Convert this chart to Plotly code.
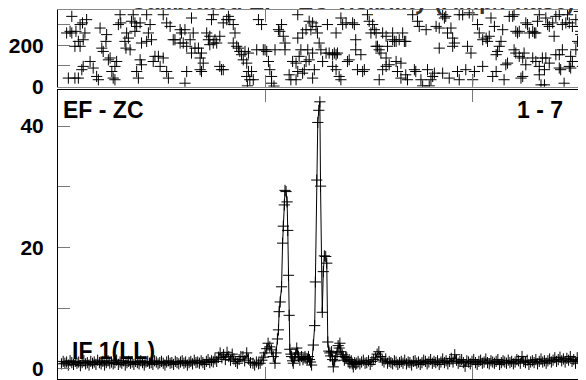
import plotly.graph_objects as go

# ---------------- data (time in minutes from left edge of plot) ----------------
amp_time_early = [1.0, 1.5, 2.0, 2.5, 3.0, 3.5, 4.0, 4.5, 5.0, 5.5,
                  6.0, 6.5, 7.0, 7.5, 8.0, 8.5, 9.0, 9.5, 10.0, 10.5,
                  11.0, 11.5, 12.0, 12.5, 13.0, 13.5, 14.0, 14.5, 15.0, 15.5,
                  16.0, 16.5, 17.0, 17.5, 18.0, 18.5, 19.0, 19.5, 20.0, 20.5,
                  21.0, 21.5, 22.0, 22.5, 23.0, 23.5, 24.0, 24.5, 25.0, 25.5,
                  26.0, 26.5, 27.0, 27.5, 28.0, 28.5, 29.0, 29.5, 30.0, 30.5,
                  31.0, 31.5, 32.0, 32.5, 33.0, 33.5, 34.0, 34.5, 35.0, 35.5,
                  36.0, 36.5, 37.0, 37.5, 38.0, 38.5, 39.0, 39.5, 40.0, 40.5,
                  41.0, 41.5, 42.0, 42.5, 43.0, 43.5, 44.0, 44.5, 45.0, 45.5,
                  46.0, 46.5, 47.0, 47.5, 48.0, 48.5, 49.0, 49.5, 50.0, 50.5,
                  51.0, 51.5, 52.0, 52.5, 53.0]
amp_early = [0.8, 1.2, 0.9, 1.1, 0.6, 1.3, 1.0, 0.7, 1.2, 0.9,
             1.1, 0.5, 1.0, 1.3, 0.8, 1.0, 0.6, 1.2, 0.9, 1.1,
             0.7, 1.4, 1.0, 0.8, 1.2, 0.6, 1.0, 1.3, 0.9, 1.1,
             0.8, 1.0, 1.4, 0.7, 1.1, 0.9, 1.3, 0.6, 1.0, 1.2,
             0.9, 1.1, 0.7, 1.2, 1.0, 0.8, 1.3, 1.0, 0.6, 1.1,
             1.2, 0.9, 1.0, 0.7, 1.3, 1.1, 0.8, 1.0, 1.2, 0.9,
             0.6, 1.1, 1.3, 0.9, 1.0, 0.7, 1.2, 1.0, 0.8, 1.1,
             1.3, 0.9, 1.1, 0.6, 1.0, 1.2, 0.8, 1.4, 1.0, 1.1,
             0.9, 1.3, 1.0, 0.7, 1.2, 1.5, 1.0, 1.3, 1.1, 1.6,
             1.2, 1.9, 2.6, 1.8, 2.3, 1.5, 2.7, 2.0, 1.4, 2.4,
             1.6, 1.2, 0.9, 1.5, 2.0]

amp_time_flare = [53.6, 54.1, 54.7, 55.2, 55.8, 56.5, 57.0, 57.5, 58.1, 58.6,
                  59.1, 59.6, 60.0, 60.5, 60.9, 61.4, 61.9, 62.4, 62.9, 63.2,
                  63.6, 63.9, 64.1, 64.4, 64.8, 65.1, 65.3, 65.6, 65.8, 66.1,
                  66.4, 66.6, 66.8, 67.0, 67.2, 67.5, 67.7, 68.0, 68.2, 68.6,
                  68.9, 69.2, 69.5, 69.7, 70.1, 70.6, 71.0, 71.3, 71.6, 71.9,
                  72.3, 72.6, 72.9, 73.2, 73.5, 74.0, 74.4, 74.6, 75.0, 75.3,
                  75.6, 75.9, 76.1, 76.6, 76.9, 77.2, 77.6, 77.9, 78.2, 78.5,
                  78.8, 79.0, 79.3, 79.6, 79.8, 80.2, 80.5, 80.9, 81.2, 81.5,
                  81.7, 82.0, 82.4, 82.7, 83.0, 83.4, 83.7, 84.1, 84.4, 84.6,
                  85.0, 85.3, 85.6, 86.0, 86.3, 86.6]
amp_flare = [2.0, 1.3, 2.6, 1.6, 1.0, 0.9, 0.6, 1.1, 0.8, 0.9,
             1.4, 1.9, 2.6, 3.3, 4.2, 3.6, 3.1, 2.0, 0.9, 2.6,
             4.9, 6.4, 9.4, 11.0, 13.5, 20.7, 23.5, 27.0, 29.4, 29.2,
             27.5, 22.8, 15.4, 8.8, 3.2, 2.4, 2.0, 1.3, 0.9, 1.8,
             2.4, 3.4, 2.6, 2.0, 1.4, 2.0, 1.5, 1.8, 2.0, 1.7,
             1.6, 2.0, 1.5, 1.1, 0.6, 3.9, 7.1, 14.3, 31.1, 40.6,
             42.6, 44.0, 30.1, 9.3, 16.0, 18.6, 18.5, 17.4, 4.4, 2.9,
             2.6, 2.1, 2.8, 1.5, 0.3, 1.3, 2.0, 2.6, 3.8, 3.4,
             4.2, 2.8, 2.3, 2.0, 1.4, 1.9, 1.8, 1.2, 1.5, 0.9,
             1.3, 0.8, 0.3, 1.0, 0.7, 0.9]

amp_time_late = [87.0, 87.5, 88.0, 88.5, 89.0, 89.5, 90.0, 90.5, 91.0, 91.5,
                 92.0, 92.5, 93.0, 93.5, 94.0, 94.5, 95.0, 95.5, 96.0, 96.5,
                 97.0, 97.5, 98.0, 98.5, 99.0, 99.5, 100.0, 100.5, 101.0, 101.5,
                 102.0, 102.5, 103.0, 103.5, 104.0, 104.5, 105.0, 105.5, 106.0, 106.5,
                 107.0, 107.5, 108.0, 108.5, 109.0, 109.5, 110.0, 110.5, 111.0, 111.5,
                 112.0, 112.5, 113.0, 113.5, 114.0, 114.5, 115.0, 115.5, 116.0, 116.5,
                 117.0, 117.5, 118.0, 118.5, 119.0, 119.5, 120.0, 120.5, 121.0, 121.5,
                 122.0, 122.5, 123.0, 123.5, 124.0, 124.5, 125.0, 125.5, 126.0, 126.5,
                 127.0, 127.5, 128.0, 128.5, 129.0, 129.5, 130.0, 130.5, 131.0, 131.5,
                 132.0, 132.5, 133.0, 133.5, 134.0, 134.5, 135.0, 135.5, 136.0, 136.5,
                 137.0, 137.5, 138.0, 138.5, 139.0, 139.5, 140.0, 140.5, 141.0, 141.5,
                 142.0, 142.5, 143.0, 143.5, 144.0, 144.5, 145.0, 145.5, 146.0, 146.5,
                 147.0, 147.5, 148.0, 148.5, 149.0, 149.5, 150.0, 150.5, 151.0, 151.5,
                 152.0, 152.5]
amp_late = [1.2, 0.8, 1.1, 1.4, 0.9, 1.0, 1.3, 0.7, 1.2, 1.5,
            1.8, 2.4, 2.8, 2.0, 1.4, 1.1, 1.6, 0.9, 1.2, 1.0,
            0.8, 1.3, 1.1, 0.7, 1.0, 1.2, 0.9, 1.4, 0.8, 1.1,
            1.0, 0.6, 1.2, 1.3, 0.9, 1.1, 0.7, 1.0, 1.4, 1.2,
            0.8, 1.1, 1.5, 0.9, 1.2, 1.0, 1.3, 0.7, 1.1, 1.6,
            1.0, 1.3, 0.8, 1.2, 1.7, 1.1, 2.3, 1.4, 0.9, 1.2,
            1.5, 1.0, 0.4, 1.3, 1.1, 0.8, 1.2, 1.5, 1.0, 0.7,
            1.2, 1.4, 0.9, 1.1, 1.6, 1.0, 0.8, 1.3, 1.1, 0.9,
            1.2, 1.5, 0.7, 1.0, 1.3, 1.1, 0.9, 1.4, 1.0, 1.2,
            0.8, 1.1, 1.5, 1.3, 0.9, 2.0, 1.2, 1.0, 1.4, 0.7,
            1.1, 1.3, 1.0, 1.5, 0.8, 1.2, 1.6, 1.1, 1.3, 0.9,
            1.3, 1.6, 1.1, 1.4, 1.8, 1.2, 1.5, 1.9, 1.3, 1.6,
            1.1, 1.7, 1.4, 2.0, 1.2, 1.5, 0.9, 1.8, 1.3, 1.6,
            1.1, 1.4]

phase_time_a = [3.0, 4.0, 4.9, 5.9, 6.4, 7.1, 7.8, 8.3, 7.3, 6.9,
                9.3, 10.2, 11.2, 11.7, 2.5, 4.0, 3.5, 5.2, 5.9, 7.3,
                6.4, 4.9, 12.2, 12.7, 13.1, 14.1, 13.9, 15.1, 14.6, 15.6,
                16.5, 17.0, 16.5, 16.0, 17.5, 18.0, 18.2, 19.9, 20.4, 19.4,
                19.7, 20.9, 21.3, 22.3, 21.8, 22.8, 22.3, 23.8, 24.2, 23.8,
                24.2, 22.8, 23.3, 25.7, 26.7, 26.2, 25.7, 27.1, 27.6, 28.1,
                29.1, 30.5, 29.6, 31.5, 32.0, 30.5, 31.5, 32.5, 33.4, 33.9,
                35.4, 35.8, 36.8, 35.4, 36.3, 37.3, 38.3, 38.7, 39.2, 38.7,
                39.7, 40.7, 41.2, 41.6, 42.1, 37.3, 36.8, 41.2, 41.6, 43.1,
                44.0, 43.6, 44.0, 45.0, 45.5, 46.0, 46.9, 47.4, 47.9, 46.9,
                45.0, 44.5, 47.9, 48.9, 49.4, 49.8, 50.8, 51.3, 50.8, 51.8,
                52.3, 52.7, 53.2, 54.2, 53.7, 54.7, 55.2, 55.2, 54.7, 55.6,
                56.1, 56.6, 58.1, 59.0, 57.6, 59.5, 60.0, 60.5, 61.0, 61.4,
                61.9, 61.9, 62.9, 63.9, 64.3, 64.8, 65.3, 65.8, 65.8, 54.9,
                62.6]
phase_deg_a = [41, 342, 41, 41, 302, 310, 261, 326, 98, 82,
               122, 90, 49, 33, 261, 261, 269, 269, 220, 228,
               196, 196, 285, 187, 171, 253, 220, 139, 130, 73,
               33, 122, 98, 41, 302, 350, 310, 261, 236, 220,
               187, 179, 318, 310, 350, 293, 269, 310, 212, 130,
               106, 73, 41, 350, 302, 261, 220, 228, 122, 147,
               147, 139, 98, 73, 41, 350, 310, 293, 228, 228,
               277, 261, 277, 212, 212, 196, 228, 334, 261, 163,
               187, 187, 139, 163, 114, 73, 16, 82, 73, 261,
               245, 228, 204, 212, 228, 212, 245, 82, 82, 98,
               350, 326, 310, 326, 342, 326, 302, 261, 212, 196,
               187, 171, 155, 171, 130, 114, 163, 73, 49, 33,
               73, 33, 326, 302, 179, 179, 179, 171, 122, 82,
               49, 16, 179, 277, 269, 302, 245, 212, 179, 3,
               2]

phase_time_b = [69.5, 69.5, 69.9, 69.0, 68.0, 67.0, 67.5, 69.0, 69.5, 70.9,
                71.4, 70.4, 72.4, 73.8, 72.8, 71.9, 70.9, 71.9, 72.8, 73.8,
                73.3, 74.8, 75.2, 75.7, 74.3, 73.8, 76.2, 76.7, 77.7, 78.1,
                78.6, 79.6, 80.1, 80.6, 79.6, 80.6, 81.5, 82.0, 81.0, 80.6,
                82.0, 82.5, 83.5, 83.9, 84.4, 85.4, 85.9, 86.3, 86.3, 86.8,
                88.3, 88.8, 87.8, 89.7, 90.2, 91.2, 91.7, 90.7, 92.2, 92.2,
                92.6, 93.1, 93.6, 94.1, 95.1, 95.5, 95.1, 94.1, 93.1, 95.1,
                96.0, 97.0, 97.0, 97.5, 98.0, 98.9, 99.9, 100.4, 100.8, 99.4,
                98.0, 98.4, 99.4, 100.8, 101.3, 102.8, 103.3, 103.7, 104.2, 104.7,
                105.2, 105.7, 106.7, 107.1, 107.6, 108.1, 108.6, 109.1, 109.6, 110.5,
                111.5, 112.0, 112.4, 112.9, 113.9, 114.4, 114.9, 114.4, 110.5, 111.5,
                113.4, 115.8, 116.3, 118.2, 118.7, 119.7, 120.7, 120.2, 116.3, 117.3,
                119.2, 120.2, 121.6, 122.1, 123.1, 123.1, 124.1, 124.5, 125.0, 125.5,
                126.5, 127.0, 127.4, 127.9, 126.0, 127.0, 128.4, 128.9, 129.3, 129.8,
                130.3, 130.8, 131.8, 132.2, 132.7, 133.2, 133.7, 132.2, 132.7, 133.7,
                134.7, 135.1, 134.2, 134.7, 135.6, 136.1, 136.6, 137.6, 138.1, 138.5,
                139.0, 139.5, 141.4, 141.9, 142.4, 143.4, 143.8, 144.3, 145.3, 146.2,
                147.2, 147.7, 148.2, 149.1, 150.1, 151.1, 151.5, 151.1, 150.6, 150.1,
                148.6, 149.1, 148.6, 148.2, 146.2, 145.3, 144.3, 142.4, 141.4, 140.4,
                139.5, 138.5, 137.6, 135.6, 139.5, 141.0, 145.3, 145.7, 140.0, 141.0,
                146.7, 152.0, 152.0, 151.1, 151.5]
phase_deg_b = [350, 236, 147, 114, 122, 57, 33, 33, 73, 65,
               82, 179, 179, 163, 130, 122, 261, 277, 318, 310,
               277, 293, 261, 212, 82, 41, 179, 122, 163, 302,
               163, 155, 163, 155, 98, 82, 49, 33, 163, 261,
               334, 302, 310, 122, 130, 310, 302, 228, 179, 82,
               73, 82, 155, 350, 318, 302, 277, 261, 261, 196,
               196, 179, 163, 261, 245, 196, 139, 82, 33, 98,
               106, 261, 228, 220, 220, 228, 261, 220, 220, 114,
               122, 73, 41, 57, 33, 350, 82, 73, 318, 293,
               33, 3, 277, 82, 3, 33, 49, 65, 293, 285,
               350, 334, 342, 261, 285, 236, 212, 196, 187, 65,
               41, 73, 33, 82, 196, 163, 73, 33, 350, 350,
               359, 350, 302, 261, 228, 98, 236, 220, 245, 334,
               293, 155, 171, 196, 49, 73, 220, 277, 33, 106,
               114, 342, 342, 350, 269, 261, 269, 179, 163, 147,
               139, 163, 41, 49, 310, 302, 261, 269, 261, 261,
               318, 350, 334, 302, 293, 310, 245, 342, 350, 302,
               310, 350, 310, 293, 326, 293, 269, 212, 220, 179,
               147, 122, 90, 98, 179, 155, 155, 114, 139, 139,
               98, 122, 139, 106, 57, 82, 90, 82, 8, 8,
               16, 98, 179, 366, 253]

amp_ticks = [0, 10, 20, 30, 40]
amp_ticktext = ["0", "", "20", "", "40"]
phase_ticks = [0, 100, 200, 300]
phase_ticktext = ["0", "", "200", ""]
time_ticks = [60, 120]
baseline_label = "EF - ZC"
channel_label = "1 - 7"
if_label = "IF 1(LL)"
title_text = "Calibrated EF - ZC visibility (Amp/Phase)"

assert len(amp_time_early) == len(amp_early)
assert len(amp_time_flare) == len(amp_flare)
assert len(amp_time_late) == len(amp_late)
assert len(phase_time_a) == len(phase_deg_a)
assert len(phase_time_b) == len(phase_deg_b)

amp_time = amp_time_early + amp_time_flare + amp_time_late
amp = amp_early + amp_flare + amp_late
phase_time = phase_time_a + phase_time_b
phase = phase_deg_a + phase_deg_b

# ---------------- figure ----------------
# The page body adds an 8 px offset, so the figure is laid out to land on
# screen with the plot area spanning x 58..589 and y 10..379.
W, H = 586, 380
ML, MR, MT, MB = 50, 5, 2, 9
plot_w = W - ML - MR
plot_h = H - MT - MB
SCREEN_LEFT, SCREEN_BOTTOM = 58, 379

def py(p):  # screen row -> paper fraction
    return (SCREEN_BOTTOM - p) / plot_h

def px(p):  # screen column -> paper fraction
    return (p - SCREEN_LEFT) / plot_w

cross = dict(symbol="cross-thin", size=8, color="black", line=dict(width=1, color="black"))

fig = go.Figure()
fig.add_trace(go.Scatter(x=amp_time, y=amp, mode="lines+markers", xaxis="x", yaxis="y",
                         line=dict(color="black", width=1), marker=cross, hoverinfo="skip"))
fig.add_trace(go.Scatter(x=phase_time, y=phase, mode="markers", xaxis="x2", yaxis="y2",
                         marker=cross, hoverinfo="skip"))
fig.add_trace(go.Scatter(x=[None], y=[None], xaxis="x", yaxis="y3", hoverinfo="skip"))
fig.add_trace(go.Scatter(x=[None], y=[None], xaxis="x2", yaxis="y4", hoverinfo="skip"))

tickfont = dict(family="Liberation Sans, Arial, sans-serif", size=21, color="black", weight="bold")
xrange = [0, plot_w / 3.45]

xcommon = dict(range=xrange, tickvals=time_ticks, showticklabels=False, ticks="inside",
               ticklen=12, tickcolor="#777", tickwidth=1, showline=True, linewidth=1,
               mirror="ticks", showgrid=False, zeroline=False, domain=[0, 1], automargin=False)
ycommon = dict(ticks="inside", ticklen=12, tickcolor="#777", tickwidth=1, showline=True,
               linecolor="black", linewidth=1, showgrid=False, zeroline=False,
               tickfont=tickfont, ticklabelstandoff=9, automargin=False)
yright = dict(ticks="inside", ticklen=11, tickcolor="#777", tickwidth=1, showline=False,
              showgrid=False, zeroline=False, showticklabels=False, side="right",
              automargin=False)

amp_range = [-1.7, 45.9]
phase_range = [-1, 373]

fig.update_layout(
    width=W, height=H, margin=dict(l=ML, r=MR, t=MT, b=MB, autoexpand=False),
    paper_bgcolor="white", plot_bgcolor="white", showlegend=False,
    xaxis=dict(anchor="y", linecolor="black", **xcommon),
    xaxis2=dict(anchor="y2", matches="x", linecolor="#888", **xcommon),
    yaxis=dict(domain=[0, py(90.3)], range=amp_range, tickvals=amp_ticks,
               ticktext=amp_ticktext, anchor="x", **ycommon),
    yaxis2=dict(domain=[py(86.7), 1], range=phase_range, tickvals=phase_ticks,
                ticktext=phase_ticktext, anchor="x2", **ycommon),
    yaxis3=dict(overlaying="y", anchor="x", range=amp_range, tickvals=amp_ticks, **yright),
    yaxis4=dict(overlaying="y2", anchor="x2", range=phase_range, tickvals=phase_ticks, **yright),
)

afont = dict(family="Liberation Sans, Arial, sans-serif", size=23, color="black", weight="bold")
fig.add_annotation(text=baseline_label, xref="paper", yref="paper", x=px(61), y=py(110),
                   xanchor="left", yanchor="middle", showarrow=False, font=afont)
fig.add_annotation(text=channel_label, xref="paper", yref="paper", x=px(565), y=py(110),
                   xanchor="right", yanchor="middle", showarrow=False, font=afont)
fig.add_annotation(text=if_label, xref="paper", yref="paper", x=px(70), y=py(351),
                   xanchor="left", yanchor="middle", showarrow=False, font=afont)
fig.add_annotation(text=title_text, xref="paper", yref="paper", x=px(577), y=py(16),
                   xanchor="right", yanchor="bottom", showarrow=False,
                   font=dict(family="Liberation Sans, Arial, sans-serif", size=23,
                             color="#333", weight="bold"))

fig.write_html("out.html")
